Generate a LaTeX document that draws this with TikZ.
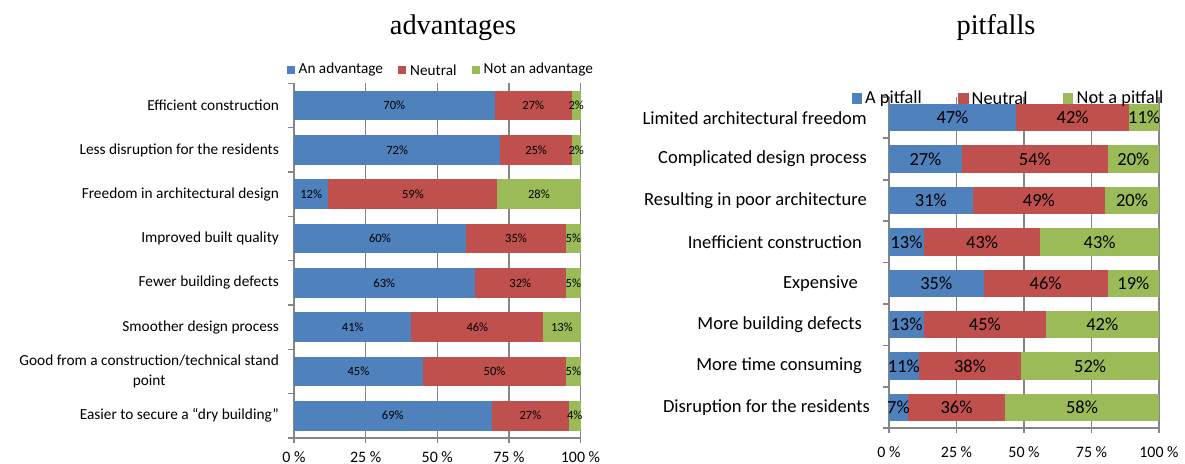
\documentclass[tikz,border=0pt]{standalone}
\usepackage{fontspec}
\setmainfont{Carlito}
\newfontfamily\serifttl{Liberation Serif}
\usepackage{tikz}

\definecolor{advblue}{HTML}{4F81BD}
\definecolor{neutred}{HTML}{C0504D}
\definecolor{notgreen}{HTML}{9BBB59}
\definecolor{axisgray}{HTML}{868686}

\begin{document}
\begin{tikzpicture}[x=1bp,y=-1bp,
	ttl/.style={inner sep=0pt,font=\serifttl\fontsize{28.5}{30}\selectfont},
	lgrid/.style={axisgray,line width=1.3bp},
	rgrid/.style={axisgray,line width=1.8bp},
	lcat/.style={inner sep=0pt,anchor=east,align=center,font=\fontsize{15.4}{19.3}\selectfont},
	lval/.style={inner sep=0pt,font=\fontsize{12.6}{14}\selectfont},
	ltick/.style={inner sep=0pt,font=\fontsize{16}{18}\selectfont},
	lkey/.style={inner sep=0pt,anchor=west,font=\fontsize{15.3}{17}\selectfont},
	rcat/.style={inner sep=0pt,anchor=east,font=\fontsize{18.6}{20}\selectfont},
	rval/.style={inner sep=0pt,font=\fontsize{18.5}{20}\selectfont},
	rkey/.style={inner sep=0pt,anchor=west,font=\fontsize{18.4}{20}\selectfont}]
	\useasboundingbox (0,0) rectangle (1185,464);

	\node[ttl] (advtitle) at (453,28) {advantages};
	\node[ttl] (pittitle) at (996,28) {pitfalls};

	% advantages
	\begin{scope}[shift={(294,83.5)},x=2.865bp,y=-44.3bp]
		\foreach \g in {25,50,75,100}
			\draw[lgrid] (\g,0) -- (\g,8.12);
		\draw[lgrid] (0,0) -- (0,8.12);
		\draw[lgrid] (0,8) -- (100,8);
		\foreach \r in {0,...,8}
			\draw[lgrid] (-2.1,\r) -- (0,\r);
		\foreach \r/\a/\b/\c/\txt in {1/70/27/2/Efficient construction,
			2/72/25/2/Less disruption for the residents,
			3/12/59/28/Freedom in architectural design,
			4/60/35/5/Improved built quality,
			5/63/32/5/Fewer building defects,
			6/41/46/13/Smoother design process,
			7/45/50/5/{Good from a construction/technical stand\\point},
			8/69/27/4/Easier to secure a “dry building”}
		{
			\pgfmathtruncatemacro\ab{\a+\b}
			\fill[advblue] (0,\r-0.833) rectangle (\a,\r-0.167);
			\fill[neutred] (\a,\r-0.833) rectangle (\ab,\r-0.167);
			\fill[notgreen] (\ab,\r-0.833) rectangle (100,\r-0.167);
			\node[lval] (adva\r) at ({\a/2},\r-0.5) {\a\%};
			\node[lval] (advb\r) at ({(\a+\ab)/2},\r-0.5) {\b\%};
			\node[lval] (advc\r) at ({(\ab+100)/2},\r-0.5) {\c\%};
			\node[lcat] (advcat\r) at (-5.2,\r-0.5) {\txt};
		}
		\foreach \g in {0,25,50,75,100}
			\node[ltick,yshift=-18.8bp] (advx\g) at (\g,8) {\g~\%};
	\end{scope}

	\fill[advblue] (287,66) rectangle (295,74);
	\node[lkey] (advkeya) at (298.5,70) {An advantage};
	\fill[neutred] (398,66) rectangle (406,74);
	\node[lkey] (advkeyb) at (410,70) {Neutral};
	\fill[notgreen] (472,66) rectangle (480,74);
	\node[lkey] (advkeyc) at (483.5,70) {Not an advantage};

	% pitfalls
	\begin{scope}[shift={(889,97)},x=2.70bp,y=-41.4bp]
		\foreach \g in {25,50,75,100}
			\draw[rgrid] (\g,0) -- (\g,8.12);
		\draw[rgrid] (0,0) -- (0,8.12);
		\draw[rgrid] (0,8) -- (100,8);
		\foreach \r in {0,...,8}
			\draw[rgrid] (-2.2,\r) -- (0,\r);
		\foreach \r/\a/\b/\c/\ex/\txt in {1/47/42/11/-22/Limited architectural freedom,
			2/27/54/20/-22/Complicated design process,
			3/31/49/20/-22/Resulting in poor architecture,
			4/13/43/43/-27/Inefficient construction,
			5/35/46/19/-31/Expensive,
			6/13/45/42/-27/More building defects,
			7/11/38/52/-27/More time consuming,
			8/7/36/58/-19/Disruption for the residents}
		{
			\pgfmathtruncatemacro\ab{\a+\b}
			\fill[advblue] (0,\r-0.832) rectangle (\a,\r-0.168);
			\fill[neutred] (\a,\r-0.832) rectangle (\ab,\r-0.168);
			\fill[notgreen] (\ab,\r-0.832) rectangle (100,\r-0.168);
			\node[rval] (pita\r) at ({\a/2},\r-0.5) {\a\%};
			\node[rval] (pitb\r) at ({(\a+\ab)/2},\r-0.5) {\b\%};
			\node[rval] (pitc\r) at ({(\ab+100)/2},\r-0.5) {\c\%};
			\node[rcat,xshift=\ex bp] (pitcat\r) at (0,\r-0.5) {\txt};
		}
		\foreach \g in {0,25,50,75,100}
			\node[ltick,yshift=-23.7bp] (pitx\g) at (\g,8) {\g~\%};
	\end{scope}

	\fill[advblue] (851.5,93.5) rectangle (862,104.5);
	\node[rkey] (pitkeya) at (865,98.5) {A pitfall};
	\fill[neutred] (958,93.5) rectangle (968.5,104.5);
	\node[rkey] (pitkeyb) at (971.5,98.5) {Neutral};
	\fill[notgreen] (1062.5,93.5) rectangle (1073,104.5);
	\node[rkey] (pitkeyc) at (1076.5,98.5) {Not a pitfall};
\end{tikzpicture}
\end{document}
